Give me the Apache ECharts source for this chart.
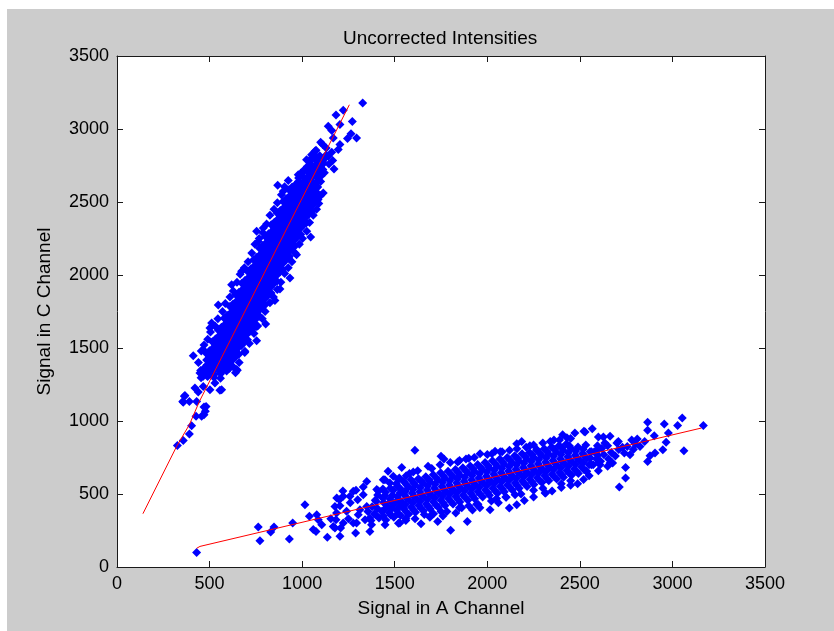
<!DOCTYPE html>
<html>
<head>
<meta charset="utf-8">
<script src="https://cdn.jsdelivr.net/npm/echarts@6/dist/echarts.min.js"></script>
<style>
  html, body { margin: 0; background: #fff; }
  #chart { position: absolute; left: 7px; top: 9px; width: 827px; height: 622px; background: #cccccc; }
</style>
</head>
<body>
<div id="chart"></div>
<script>
const AXIS_MIN = 0, AXIS_MAX = 3500, AXIS_STEP = 500;

// steep cloud (C vs A, upper-left band)
const upperCloud = [
  [326,833],[358,867],[391,911],[403,968],[427,1032],[457,1032],[470,1043],[477,1066],[481,1100],[470,1096],
  [355,1134],[391,1134],[430,1134],[364,1169],[358,1128],[367,1175],[421,1226],[439,1199],[466,1237],[502,1214],
  [529,1260],[556,1210],[565,1214],[412,1447],[448,1329],[466,1306],[484,1352],[466,1488],[646,1352],[691,1477],[650,1347],
  [454,1296],[489,1305],[524,1298],[559,1292],
  [490,1322],[525,1318],[560,1324],
  [452,1346],[488,1338],[522,1344],[558,1335],[592,1342],
  [470,1362],[505,1357],[540,1364],[575,1358],[608,1362],
  [486,1384],[521,1376],[556,1382],[591,1386],[626,1374],
  [500,1402],[537,1397],[572,1404],[607,1399],
  [484,1418],[520,1426],[554,1415],[590,1422],[624,1417],
  [500,1440],[536,1444],[571,1437],[606,1442],[640,1438],
  [483,1463],[518,1456],[553,1462],[588,1455],[623,1466],[658,1458],
  [500,1482],[535,1477],[570,1484],[605,1479],[640,1483],
  [516,1497],[552,1505],[586,1499],[622,1494],[656,1503],
  [533,1520],[568,1524],[603,1518],[638,1522],[672,1517],
  [515,1543],[550,1536],[585,1542],[620,1546],[655,1538],[690,1544],
  [532,1562],[567,1557],[602,1564],[637,1558],[672,1563],[705,1557],
  [548,1578],[584,1585],[618,1577],[654,1582],[688,1576],
  [565,1600],[600,1604],[635,1597],[670,1602],[705,1598],
  [547,1624],[582,1616],[617,1623],[652,1618],[687,1626],[722,1617],
  [564,1642],[599,1637],[634,1644],[669,1638],[704,1643],[738,1637],
  [580,1657],[616,1664],[650,1658],[686,1655],[720,1663],
  [597,1680],[632,1684],[667,1677],[702,1682],[737,1678],
  [579,1704],[614,1697],[649,1702],[684,1706],[719,1698],[754,1703],
  [596,1722],[631,1717],[666,1724],[701,1718],[736,1723],[770,1717],
  [612,1738],[648,1745],[682,1736],[718,1742],[752,1737],
  [629,1760],[664,1764],[699,1757],[734,1762],[768,1758],
  [610,1784],[645,1776],[680,1782],[715,1786],[750,1778],[785,1783],
  [627,1802],[662,1797],[697,1804],[732,1798],[767,1803],[800,1797],
  [643,1817],[679,1824],[713,1818],[749,1815],[783,1823],
  [660,1840],[695,1844],[730,1837],[765,1842],[800,1838],
  [642,1864],[677,1857],[712,1862],[747,1866],[782,1858],[817,1863],
  [659,1882],[694,1877],[729,1884],[764,1878],[799,1883],[832,1877],
  [675,1898],[711,1905],[745,1897],[781,1902],[815,1896],
  [692,1920],[727,1924],[762,1917],[797,1922],[831,1918],
  [674,1944],[709,1936],[744,1942],[779,1946],[814,1938],[849,1943],
  [691,1962],[726,1957],[761,1964],[796,1958],[831,1963],[864,1957],
  [707,1977],[743,1984],[777,1978],[813,1975],[847,1983],
  [724,2000],[759,2004],[794,1997],[829,2002],[863,1998],
  [706,2024],[741,2017],[776,2022],[811,2026],[846,2018],[881,2023],
  [723,2042],[758,2037],[793,2044],[828,2038],[863,2043],[896,2037],
  [739,2058],[775,2065],[809,2057],[845,2062],[879,2056],
  [756,2080],[791,2084],[826,2077],[861,2082],[895,2078],
  [738,2104],[773,2096],[808,2102],[843,2106],[878,2098],[913,2103],
  [755,2122],[790,2117],[825,2124],[860,2118],[895,2123],[928,2117],
  [771,2137],[807,2144],[841,2138],[877,2135],[911,2143],
  [788,2160],[823,2164],[858,2157],[893,2162],[927,2158],
  [770,2184],[805,2177],[840,2182],[875,2186],[910,2178],[945,2183],
  [787,2202],[822,2197],[857,2204],[892,2198],[927,2203],[960,2197],
  [803,2218],[839,2225],[873,2217],[909,2222],[943,2216],
  [820,2240],[855,2244],[890,2237],[925,2242],[959,2238],
  [801,2264],[836,2256],[871,2262],[906,2266],[941,2258],[976,2263],
  [819,2282],[854,2277],[889,2284],[924,2278],[959,2283],[992,2277],
  [834,2297],[870,2304],[904,2298],[940,2295],[974,2303],
  [851,2320],[886,2324],[921,2317],[956,2322],[990,2318],
  [833,2344],[868,2337],[903,2342],[938,2346],[973,2338],[1008,2343],
  [850,2362],[885,2357],[920,2364],[955,2358],[990,2363],[1022,2357],
  [866,2378],[902,2385],[936,2377],[972,2382],[1006,2376],
  [883,2400],[918,2404],[953,2397],[988,2402],[1022,2398],
  [865,2424],[900,2416],[935,2422],[970,2426],[1005,2418],[1040,2423],
  [882,2442],[917,2437],[952,2444],[987,2438],[1022,2443],[1054,2437],
  [898,2457],[934,2464],[968,2458],[1004,2455],[1038,2463],
  [915,2480],[950,2484],[985,2477],[1020,2482],[1054,2478],
  [897,2504],[932,2497],[967,2502],[1002,2506],[1037,2498],[1072,2503],
  [914,2522],[949,2517],[984,2524],[1019,2518],[1054,2523],[1086,2517],
  [930,2538],[966,2545],[1000,2537],[1036,2542],[1070,2536],
  [947,2560],[982,2564],[1017,2557],[1052,2562],[1084,2558],
  [929,2584],[964,2577],[999,2582],[1034,2586],[1069,2578],
  [946,2602],[981,2597],[1016,2604],[1051,2598],[1084,2603],
  [962,2617],[998,2624],[1032,2618],[1068,2615],
  [980,2640],[1015,2644],[1050,2637],[1082,2642],
  [981,2664],[1016,2657],[1051,2662],[1086,2666],
  [1000,2682],[1035,2677],[1070,2684],[1102,2678],
  [994,2698],[1030,2705],[1064,2697],[1100,2702],
  [1010,2720],[1045,2724],[1080,2717],[1112,2722],
  [1028,2744],[1063,2737],[1098,2742],
  [1045,2762],[1080,2757],[1115,2764],
  [1040,2778],[1076,2785],[1110,2777],
  [1050,2800],[1085,2804],[1120,2797],
  [1060,2824],[1095,2817],[1130,2822],
  // ragged left edge
  [440,1400],[455,1480],[470,1520],[490,1560],[505,1610],[530,1650],[545,1700],[570,1750],[585,1805],[610,1850],
  [628,1890],[648,1950],[665,2005],[688,2050],[708,2090],[728,2150],[745,2210],[768,2250],[788,2290],[808,2350],
  [826,2410],[848,2450],[866,2495],[888,2550],[905,2605],
  // ragged right edge
  [640,1330],[660,1400],[690,1470],[715,1530],[740,1600],[760,1650],[785,1700],[800,1750],[826,1810],[845,1850],
  [866,1900],[885,1950],[905,2010],[925,2050],[945,2090],[962,2150],[985,2210],[1002,2250],[1025,2300],[1040,2360],
  [1060,2410],[1078,2450],[1090,2490],[1100,2545],
  // scattered outliers
  [547,1794],[619,1934],[673,2025],[502,1637],[511,1671],[934,1980],[931,2128],[880,1904],[853,1826],[803,1664],
  [754,1550],[754,1648],[970,2139],[1046,2260],[754,2299],[790,2322],[763,2230],[868,2614],[925,2648],[898,2573],
  [979,2687],[1024,2790],[1069,2847],[1042,2744],[1114,2562],[1172,2726],[1165,2785],[1141,2813],[1051,2824],
  [1075,2854],[1195,2859],[1111,2893],[1204,2893],[1168,2939],[1141,3018],[1204,3030],[1264,2968],[1294,2939],
  [1271,3052],[1183,3096],[1222,3128],[1327,3178],[1160,2990],[1245,2935],[1130,2870],[1160,2840],[1100,2910],
  [1120,2700],[1145,2760],[1080,2600],[1100,2640]
];

// shallow cloud (lower-right band)
const lowerCloud = [
  [430,100],[763,274],[772,180],[830,240],[848,274],[931,192],[949,301],[1015,427],[1039,347],[1079,358],
  [1087,324],[1060,256],[1075,244],[1106,290],[1136,203],[1177,415],[1187,473],[1201,461],[1222,484],[1204,210],
  [1208,267],[1177,267],[1183,324],[1289,233],[1294,301],[1303,358],[1276,518],[1291,525],[1330,548],[1349,586],
  [1349,415],[1366,336],[1375,290],[1366,244],[1403,530],[1447,598],[1474,575],[1492,621],[1519,598],[1528,301],
  [1168,278],[1222,301],[1276,301],[1340,324],[1186,370],[1240,381],[1312,392],[1204,420],[1258,484],[1330,495],
  [1438,598],[1464,655],[1250,330],[1155,330],[1260,440],[1300,460],[1355,380],[1220,520],
  [1372,318],[1390,365],[1378,412],[1395,458],
  [1398,356],[1405,402],[1400,448],[1408,494],
  [1415,335],[1430,380],[1435,472],[1412,520],
  [1438,350],[1445,396],[1440,442],[1448,488],[1436,534],
  [1452,322],[1470,372],[1458,420],[1475,466],[1450,512],
  [1478,356],[1485,402],[1480,448],[1488,494],[1476,540],
  [1495,340],[1510,388],[1498,435],[1515,480],[1492,525],[1508,570],
  [1518,367],[1525,414],[1520,461],[1528,507],[1516,552],
  [1532,352],[1550,398],[1538,446],[1555,492],[1530,538],[1548,585],
  [1562,379],[1557,426],[1563,473],[1558,519],[1564,564],
  [1575,362],[1590,410],[1578,458],[1595,505],[1572,550],[1588,598],
  [1602,391],[1597,438],[1603,485],[1598,531],[1604,576],
  [1612,375],[1630,422],[1618,468],[1635,515],[1610,562],[1628,605],
  [1642,403],[1637,450],[1643,497],[1638,543],[1644,588],
  [1655,385],[1670,432],[1658,480],[1675,528],[1652,575],[1668,618],
  [1682,415],[1677,462],[1683,509],[1678,555],[1684,600],
  [1692,398],[1710,445],[1698,492],[1715,540],[1690,586],[1708,632],[1700,360],
  [1722,427],[1717,474],[1723,521],[1718,567],[1724,612],
  [1735,410],[1750,458],[1738,505],[1755,552],[1732,598],[1748,645],
  [1762,439],[1757,486],[1763,533],[1758,579],[1764,624],
  [1772,422],[1790,470],[1778,516],[1795,562],[1770,610],[1788,655],[1782,380],
  [1802,451],[1797,498],[1803,545],[1798,591],[1804,636],
  [1815,432],[1830,482],[1818,528],[1835,575],[1812,622],[1828,668],
  [1842,463],[1837,510],[1843,557],[1838,603],[1844,648],
  [1852,445],[1870,492],[1858,540],[1875,588],[1850,632],[1868,680],[1862,405],
  [1882,475],[1877,522],[1883,569],[1878,615],[1884,660],
  [1895,458],[1910,505],[1898,552],[1915,598],[1892,645],[1908,692],
  [1922,487],[1917,534],[1923,581],[1918,627],[1924,672],
  [1932,468],[1950,516],[1938,562],[1955,610],[1930,656],[1948,702],[1942,430],
  [1962,499],[1957,546],[1963,593],[1958,639],[1964,684],
  [1975,480],[1990,528],[1978,575],[1995,622],[1972,668],[1988,715],
  [2002,511],[1997,558],[2003,605],[1998,651],[2004,696],
  [2012,492],[2030,540],[2018,588],[2035,635],[2010,680],[2028,728],[2022,452],
  [2042,523],[2037,570],[2043,617],[2038,663],[2044,708],
  [2055,505],[2070,552],[2058,600],[2075,646],[2052,692],[2068,740],
  [2082,535],[2077,582],[2083,629],[2078,675],[2084,720],
  [2092,515],[2110,562],[2098,610],[2115,658],[2090,705],[2108,750],[2102,478],
  [2122,547],[2117,594],[2123,641],[2118,687],[2124,732],
  [2135,528],[2150,575],[2138,622],[2155,670],[2132,716],[2148,762],
  [2162,559],[2157,606],[2163,653],[2158,699],[2164,744],
  [2172,540],[2190,588],[2178,635],[2195,682],[2170,728],[2188,775],[2182,500],
  [2202,571],[2197,618],[2203,665],[2198,711],[2204,756],
  [2215,552],[2230,600],[2218,646],[2235,694],[2212,740],[2228,785],
  [2242,583],[2237,630],[2243,677],[2238,723],[2244,768],
  [2252,565],[2270,612],[2258,658],[2275,705],[2250,752],[2268,798],
  [2282,595],[2277,642],[2283,689],[2278,735],[2284,780],
  [2295,578],[2310,625],[2298,670],[2315,718],[2292,765],[2308,810],
  [2322,607],[2317,654],[2323,701],[2318,747],[2324,792],
  [2332,590],[2350,636],[2338,682],[2355,730],[2330,776],[2348,822],
  [2362,619],[2357,666],[2363,713],[2358,759],[2364,804],
  [2375,602],[2390,648],[2378,695],[2395,742],[2372,788],[2388,832],
  [2402,631],[2397,678],[2403,725],[2398,771],[2404,816],
  [2412,615],[2430,660],[2418,708],[2435,755],[2410,800],[2428,845],
  [2442,643],[2437,690],[2443,737],[2438,783],[2444,828],
  [2455,628],[2470,672],[2458,720],[2475,766],[2452,812],
  [2482,655],[2477,702],[2483,749],[2478,795],
  [2492,640],[2510,685],[2498,732],[2515,778],[2490,822],
  [2522,667],[2517,714],[2523,761],[2518,806],
  [2535,655],[2550,700],[2538,745],[2555,790],[2532,835],
  [2562,700],[2557,746],[2563,790],
  [2572,700],[2590,742],[2578,790],[2595,830],
  [2602,720],[2597,766],[2603,810],
  [2612,725],[2630,768],[2618,812],[2635,850],
  [2655,740],[2670,785],[2650,830],
  [2692,760],[2710,805],[2700,850],
  // ragged upper edge
  [1562,625],[1600,650],[1700,675],[1745,700],[1840,720],[1885,740],[1930,750],[2025,775],[2070,790],
  [2160,810],[2210,820],[2250,835],[2340,860],[2390,870],[2430,885],
  // ragged lower edge
  [1560,330],[1660,360],[1710,365],[1750,380],[1850,405],[1900,420],[1950,430],[2050,470],[2100,480],
  [2150,495],[2250,525],[2300,540],[2400,570],[2450,590],[2550,625],[2600,660],[2650,690],
  // scattered outliers
  [1448,290],[1520,300],[1560,318],[1610,330],[1642,297],[1690,340],[1732,312],[1760,350],[1802,251],[1830,370],
  [1892,312],[1920,390],[1960,405],[2015,392],[2060,440],[2119,404],[2159,427],[2200,455],[2250,480],[2315,507],
  [2350,520],[2400,545],[2450,560],[2488,571],[2520,600],
  [1538,682],[1525,610],[1580,640],[1624,660],[1609,799],[1680,690],[1750,758],[1766,740],[1800,715],[1850,730],
  [1900,745],[1961,776],[2000,770],[2042,792],[2080,790],[2120,800],[2159,845],[2186,860],[2230,830],[2267,804],
  [2300,850],[2360,870],[2407,906],[2450,880],[2473,918],[2522,929],[2567,947],[2528,925],[2600,890],[2627,890],
  [2663,895],[2708,860],
  [2747,682],[2747,610],[2713,548],[2771,769],[2789,804],[2825,826],[2756,826],[2677,712],[2663,712],[2609,701],
  [2537,655],[2312,507],[2866,991],[2866,936],[2978,918],[2966,854],[2948,803],[2906,781],[2879,762],[2866,723],
  [2902,899],[2810,877],[2956,980],[3028,970],[3053,1021],[3062,797],[3167,970],[2740,780],[2800,840],[2850,860],
  [2780,870],[2730,820]
];

const upperFit = [[140,365],[322,826],[391,975],[445,1134],[1255,3166]];
const lowerFit = [[430,128],[448,141],[3157,952]];

const FONT = '"Liberation Sans", Arial, Helvetica, sans-serif';
const INK = '#1a1a1a';

const chart = echarts.init(document.getElementById('chart'), null, { renderer: 'canvas' });

function boxAxis(extra) {
  return Object.assign({
    type: 'value',
    min: AXIS_MIN,
    max: AXIS_MAX,
    interval: AXIS_STEP,
    splitLine: { show: false },
    axisLine: { show: true, onZero: false, lineStyle: { color: INK, width: 1 } },
    axisTick: { show: true, inside: true, length: 6, lineStyle: { color: INK } },
    axisLabel: { show: false }
  }, extra);
}

const tickLabel = {
  show: true, color: '#000', fontSize: 18, fontFamily: FONT, margin: 8,
  formatter: (v) => String(v)
};
const nameStyle = { color: '#000', fontSize: 19, fontFamily: FONT };
const dot = { color: '#0000ff', opacity: 1 };

chart.setOption({
  animation: false,
  title: {
    text: 'Uncorrected Intensities',
    left: 331,
    top: 15,
    textStyle: { color: '#000', fontSize: 19, fontWeight: 'normal', fontFamily: FONT }
  },
  grid: {
    left: 110, top: 47, width: 648, height: 511,
    show: true, backgroundColor: '#ffffff', borderWidth: 0
  },
  xAxis: [
    boxAxis({
      position: 'bottom',
      name: 'Signal in A Channel',
      nameLocation: 'middle',
      nameGap: 32,
      nameTextStyle: nameStyle,
      axisLabel: tickLabel
    }),
    boxAxis({ position: 'top' })
  ],
  yAxis: [
    boxAxis({
      position: 'left',
      name: 'Signal in C Channel',
      nameLocation: 'middle',
      nameGap: 63,
      nameTextStyle: nameStyle,
      axisLabel: tickLabel
    }),
    boxAxis({ position: 'right' })
  ],
  series: [
    { type: 'scatter', data: upperCloud, symbol: 'diamond', symbolSize: 9, itemStyle: dot, silent: true },
    { type: 'scatter', data: lowerCloud, symbol: 'diamond', symbolSize: 9, itemStyle: dot, silent: true },
    {
      type: 'line', data: upperFit, symbol: 'none', z: 5,
      lineStyle: { color: '#ff0000', width: 1 }, silent: true
    },
    {
      type: 'line', data: lowerFit, symbol: 'none', z: 5,
      lineStyle: { color: '#ff0000', width: 1 }, silent: true
    }
  ]
});
</script>
</body>
</html>
